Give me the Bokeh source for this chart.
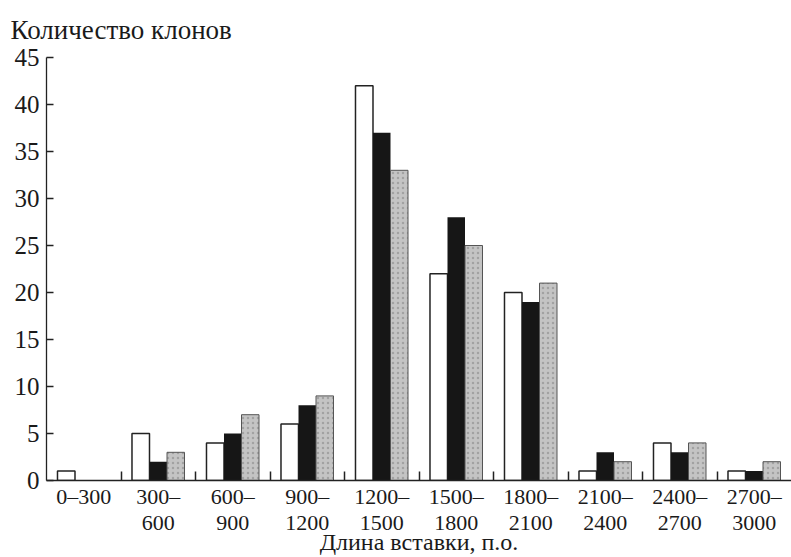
from bokeh.plotting import figure
from bokeh.models import Range1d, FixedTicker, ColumnDataSource
from bokeh.transform import dodge
from bokeh.embed import file_html
from bokeh.resources import INLINE

categories = ["0–300", "300–\n600", "600–\n900", "900–\n1200", "1200–\n1500",
              "1500–\n1800", "1800–\n2100", "2100–\n2400", "2400–\n2700", "2700–\n3000"]
series_white = [1, 5, 4, 6, 42, 22, 20, 1, 4, 1]
series_black = [0, 2, 5, 8, 37, 28, 19, 3, 3, 1]
series_gray = [0, 3, 7, 9, 33, 25, 21, 2, 4, 2]
y_ticks = [0, 5, 10, 15, 20, 25, 30, 35, 40, 45]

centers = [i + 0.5 for i in range(len(categories))]
boundaries = [float(i) for i in range(1, len(categories))]

src = ColumnDataSource(dict(x=centers, w=series_white, b=series_black, g=series_gray))

FONT = "Liberation Serif"

p = figure(width=791, height=557, output_backend="svg", toolbar_location=None,
           x_range=Range1d(0, 10), y_range=Range1d(0, 45),
           min_border_left=46, min_border_right=0, min_border_top=53, min_border_bottom=77)
p.outline_line_color = None
p.grid.grid_line_color = None

p.title.text = "Количество клонов"
p.title.text_font = FONT
p.title.text_font_size = "27px"
p.title.text_font_style = "normal"
p.title.text_color = "#1a1a1a"
p.title.offset = -36
p.title.standoff = 25

bw = 0.235
p.vbar(x=dodge("x", -bw, range=p.x_range), top="w", width=bw, source=src,
       fill_color="white", line_color="#222222", line_width=1.5)
p.vbar(x="x", top="b", width=bw, source=src,
       fill_color="#161616", line_color=None)
p.vbar(x=dodge("x", bw, range=p.x_range), top="g", width=bw, source=src,
       fill_color="#c4c4c4", line_color="#555555", line_width=1.0,
       hatch_pattern=".", hatch_color="#808080", hatch_alpha=0.5, hatch_scale=5)

xa = p.xaxis[0]
xa.ticker = FixedTicker(ticks=centers, minor_ticks=boundaries)
xa.major_label_overrides = {c: lab for c, lab in zip(centers, categories)}
xa.major_tick_in = 0
xa.major_tick_out = 0
xa.minor_tick_in = 9
xa.minor_tick_out = 0
xa.minor_tick_line_color = "#222222"
xa.minor_tick_line_width = 1.5
xa.axis_line_color = "#222222"
xa.axis_line_width = 1.5
xa.major_label_text_font = FONT
xa.major_label_text_font_size = "22px"
xa.major_label_text_line_height = 1.05
xa.major_label_text_color = "#1a1a1a"
xa.major_label_standoff = 3
xa.axis_label = "Длина вставки, п.о."
xa.axis_label_text_font = FONT
xa.axis_label_text_font_size = "24px"
xa.axis_label_text_line_height = 0.7
xa.axis_label_text_font_style = "normal"
xa.axis_label_text_color = "#1a1a1a"
xa.axis_label_standoff = -9

ya = p.yaxis[0]
ya.ticker = FixedTicker(ticks=y_ticks, minor_ticks=[])
ya.major_tick_in = 7
ya.major_tick_out = 0
ya.major_tick_line_color = "#222222"
ya.major_tick_line_width = 1.3
ya.axis_line_color = "#222222"
ya.axis_line_width = 1.3
ya.major_label_text_font = FONT
ya.major_label_text_font_size = "25px"
ya.major_label_text_color = "#1a1a1a"
ya.major_label_standoff = 7

open("out.html", "w").write(file_html(p, INLINE))
